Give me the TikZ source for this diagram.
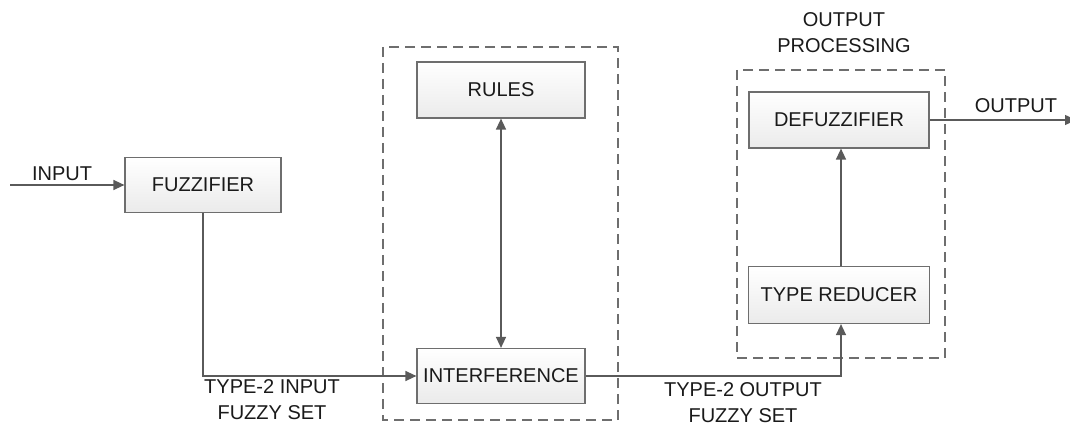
\documentclass[tikz,border=0pt]{standalone}
\usepackage{fontspec}
\setmainfont{Liberation Sans}
\usetikzlibrary{arrows.meta}
\definecolor{edge}{HTML}{6E6E6E}
\definecolor{arr}{HTML}{5A5A5A}
\definecolor{txt}{HTML}{1A1A1A}
\begin{document}
\begin{tikzpicture}[x=1pt,y=-1pt,
  blk/.style={draw=edge,line width=1.2pt,top color=white,bottom color=gray!16,
    minimum height=55pt,inner sep=0pt,font=\fontsize{20}{22}\selectfont,text=txt},
  lbl/.style={font=\fontsize{20}{26}\selectfont,text=txt,align=center,inner sep=0pt},
  grp/.style={draw=edge,line width=1.3pt,dash pattern=on 10pt off 6pt},
  conn/.style={draw=arr,line width=1.4pt},
  tip/.style={-{Triangle[length=11pt,width=10pt]}}]
\useasboundingbox (0,0) rectangle (1070,427);
% groups
\draw[grp] (383,47) rectangle (618,420);
\draw[grp] (737,70) rectangle (945,358);
% blocks
\node[blk,minimum width=156pt] (fuzz) at (203,185) {FUZZIFIER};
\node[blk,minimum width=168pt,minimum height=56pt] (rules) at (501,90) {RULES};
\node[blk,minimum width=168pt] (inter) at (501,376) {INTERFERENCE};
\node[blk,minimum width=180pt,minimum height=56pt] (defuzz) at (839,120) {DEFUZZIFIER};
\node[blk,minimum width=181pt,minimum height=57pt] (tred) at (839,295) {TYPE REDUCER};
% free ends
\coordinate (in) at (10,185);
\coordinate (out) at (1076,120);
% connectors
\draw[conn,tip] (in) -- (fuzz.west);
\draw[conn,tip] (fuzz.south) |- (inter.west);
\draw[conn,{Triangle[length=11pt,width=10pt]}-{Triangle[length=11pt,width=10pt]}] (rules.south) -- (inter.north);
\draw[conn,tip] (inter.east) -| ([xshift=2pt]tred.south);
\draw[conn,tip] ([xshift=2pt]tred.north) -- ([xshift=2pt]defuzz.south);
\draw[conn,tip] (defuzz.east) -- (out);
% labels
\node[lbl] (linput) at (62,174) {INPUT};
\node[lbl] (lin2) at (272,400) {TYPE-2 INPUT\\FUZZY SET};
\node[lbl] (lout2) at (743,403) {TYPE-2 OUTPUT\\FUZZY SET};
\node[lbl] (lproc) at (844,33) {OUTPUT\\PROCESSING};
\node[lbl] (loutput) at (1016,106) {OUTPUT};
\end{tikzpicture}
\end{document}
